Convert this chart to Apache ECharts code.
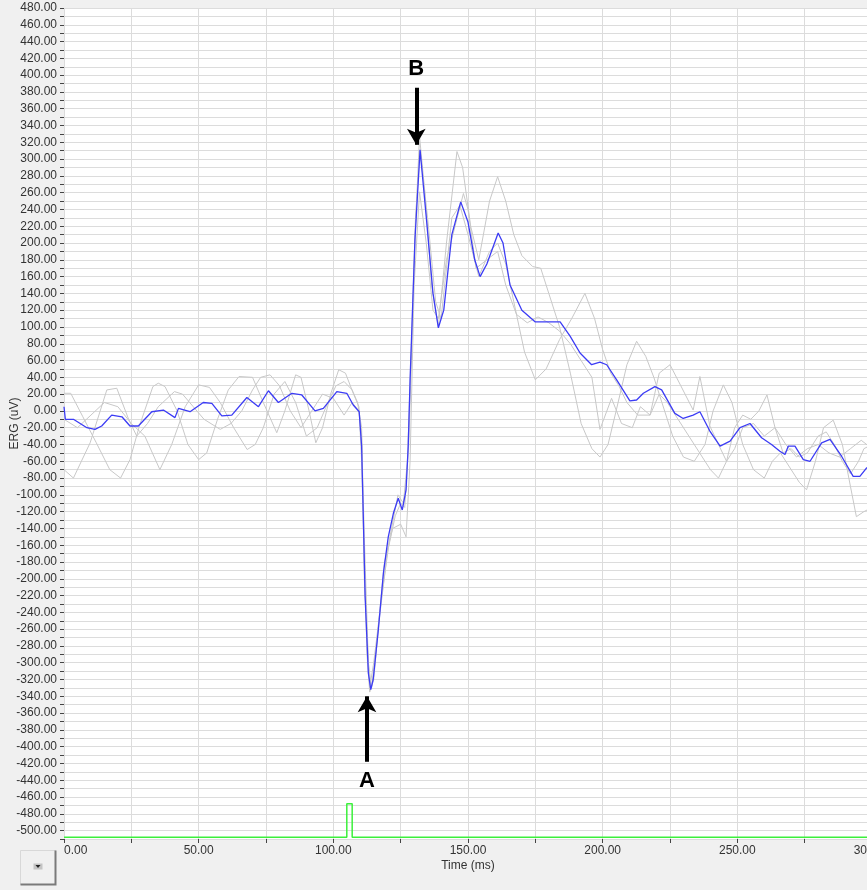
<!DOCTYPE html>
<html>
<head>
<meta charset="utf-8">
<script src="https://cdn.jsdelivr.net/npm/echarts@6/dist/echarts.min.js"></script>
<style>
  html, body { margin: 0; padding: 0; background: #f0f0f0; }
  #chart { width: 867px; height: 890px; }
</style>
</head>
<body>
<div id="chart"></div>
<script>
// averaged ERG trace (blue)
const meanTime = [0, 0.5, 3.5, 8.5, 11.5, 14, 17.7, 21.5, 24.5, 27.6, 32.6, 36.9, 41.2, 42.5, 46.8, 51.7, 54.9, 58.6, 62.3, 67.9, 72.2, 75.9, 79.6, 84.6, 88.3, 93.2, 96.3, 101.3, 105, 107.4, 109.6, 110.5, 111.1, 111.8, 113, 113.9, 114.8, 116.7, 118.6, 120.4, 122.3, 124.1, 125.6, 127, 127.8, 128.5, 130.3, 132.2, 134.7, 137, 139, 141, 144, 147.3, 150, 152.5, 154.5, 157, 161.2, 163, 165.6, 170, 175, 180, 184.2, 187.9, 191.6, 195.9, 199, 201.5, 205.2, 210.1, 212.6, 215.1, 219.4, 221.9, 226.8, 229.9, 233.6, 236.1, 239.8, 243.6, 247.3, 251, 254.7, 259, 262.7, 265.8, 267.7, 268.9, 271.4, 274.5, 277, 281.3, 284.4, 288.7, 293, 295.5, 298, 300];
const meanValue = [5, -10, -10, -20, -22, -18, -5, -7, -18, -18, -1, 1, -8, 3, -1, 10, 9, -6, -5, 16, 5, 24, 10, 21, 19, 0, 3, 23, 21, 7, -1, -42, -122, -221, -312, -332, -320, -261, -193, -150, -122, -104, -118, -94, -42, 37, 204, 311, 224, 140, 99, 120, 210, 249, 225, 180, 160, 175, 212, 200, 150, 120, 106, 106, 106, 89, 69, 55, 58, 55, 37, 12, 13, 21, 29, 25, -3, -9, -5, -1, -24, -42, -36, -20, -15, -32, -40, -48, -52, -42, -42, -58, -60, -38, -34, -54, -78, -78, -68, -66];

// single sweeps (grey)
const sweep1Time = [0, 2.5, 7, 12, 17, 21, 24.5, 28, 33, 35, 37.5, 42, 46, 50, 53, 57, 61, 65, 70, 74, 79, 82, 86, 88, 91, 93.5, 96, 99, 102, 104.5, 107.4, 109.5, 110.5, 111.5, 112.5, 113.5, 115, 117, 120, 123, 125, 126.5, 128, 129, 130.5, 132, 134, 136.5, 139, 142, 145.9, 148, 151, 154, 158, 161, 164, 167, 170, 174, 177, 180, 184, 188, 192, 196, 199, 202, 205, 209, 212.6, 216, 219, 222, 226, 230, 234, 238, 241, 244.8, 248, 252, 256, 260, 263, 266, 270, 273, 275.7, 279, 282, 285.6, 289, 292, 294.2, 297, 300];
const sweep1Value = [21, 21, -7, -38, -70, -80, -58, -18, 29, 33, 29, 0, -40, -58, -50, -10, 25, 41, 40, 10, -26, 0, 43, 40, 0, -38, -20, 20, 49, 45, 21, 5, -60, -180, -290, -335, -320, -250, -170, -125, -110, -115, -40, 60, 220, 327, 260, 150, 100, 200, 309, 290, 220, 180, 250, 279, 250, 210, 185, 172, 170, 140, 100, 45, -15, -45, -55, -40, 0, 55, 83, 65, 40, 10, -30, -55, -60, -40, 0, 31, 10, -40, -70, -80, -60, -50, -70, -85, -94, -60, -20, -11, -40, -90, -126, -120, -115];

const sweep2Time = [0, 3.5, 9.7, 15.9, 19.6, 24, 27, 31, 35, 41, 44, 48, 52, 58, 62, 66, 70, 73, 76.5, 80, 84, 88, 92, 96, 100, 104, 107, 109.5, 110.5, 111.5, 113, 114.2, 116, 119, 122, 125, 127, 128.5, 130, 132, 134.5, 137, 139, 142, 148.3, 150, 153, 157, 161, 164, 168, 172, 176, 180, 184, 188, 192, 196, 199, 203.3, 207, 211, 214, 217.6, 221, 224, 228, 232, 236, 240, 243, 246, 249, 252, 255, 258, 261, 264, 267, 270, 273, 276, 280, 283, 286, 289, 292, 295, 297, 300];
const sweep2Value = [-70, -80, -38, 25, 27, -10, -30, -15, 5, 23, 20, 5, -10, -22, -15, 0, 25, 40, 43, 30, 0, -20, 0, 20, 15, -5, 10, 0, -30, -150, -300, -330, -280, -180, -140, -135, -150, -60, 150, 261, 200, 120, 110, 180, 259, 240, 170, 180, 190, 150, 115, 105, 112, 105, 95, 80, 60, 40, -22, 15, -15, -20, 5, -5, 20, 10, -10, -30, -50, -70, -80, -60, -20, -5, -10, 0, 19, -20, -50, -45, -55, -50, -30, -25, -40, -60, -75, -60, -45, -40];

const sweep3Time = [0, 5, 10, 15, 20, 25, 30, 35.6, 40, 45, 50, 54, 58, 63, 68, 71, 74, 78, 82, 86, 90, 94, 98, 101, 104, 107, 109, 110.5, 111.5, 113.5, 115, 118, 121, 124, 126, 127.5, 129, 130.5, 132.2, 135, 138, 140, 144, 147, 150, 154, 158, 161, 164, 167, 171, 175, 179, 184, 188.5, 193.4, 197, 200, 203, 206, 209, 213, 217.6, 221, 225, 229, 233.6, 236.1, 239.8, 243, 246, 249, 252, 256, 260, 264, 268, 272, 276, 280, 284, 288, 292, 296, 300];
const sweep3Value = [-10, -20, -5, 10, 5, -15, -30, -70, -40, 5, 31, 28, 10, -20, -46, -40, -20, 20, 35, 10, -30, -20, 10, 30, 35, 25, 10, -20, -200, -330, -300, -220, -150, -100, -110, -60, 80, 230, 310, 230, 130, 110, 230, 245, 210, 160, 190, 200, 175, 130, 70, 37, 50, 85, 110, 140, 110, 73, 45, 30, 10, -5, -5, 45, 55, 30, 1, 41, -18, -40, -60, -45, -20, -15, -30, -20, -40, -55, -45, -40, -50, -55, -45, -35, -45];

// stimulus marker (green)
const stimTime = [0, 105, 105, 107, 107, 300];
const stimValue = [-508, -508, -468, -468, -508, -508];

// annotations: arrow [time, from, to] and letter position
const arrowA = { name: 'A', time: 112.5, from: -418, to: -340 };
const arrowB = { name: 'B', time: 130.8, from: 385, to: 317 };

const pairs = (t, v) => t.map((x, i) => [x, v[i]]);

const chart = echarts.init(document.getElementById('chart'));

const axisText = { color: '#333', fontSize: 12, fontFamily: 'Liberation Sans, Arial, sans-serif' };

const arrowLine = (a) => ({
  silent: true,
  symbol: ['none', 'arrow'],
  symbolSize: [14, 16],
  lineStyle: { color: '#000', width: 4, type: 'solid' },
  label: {
    show: true,
    position: 'start',
    formatter: a.name,
    color: '#000',
    fontSize: 22,
    fontWeight: 'bold',
    fontFamily: 'Liberation Sans, Arial, sans-serif',
    distance: 8
  },
  data: [[{ coord: [a.time, a.from] }, { coord: [a.time, a.to] }]]
});

const greyStyle = { color: '#c8c8c8', width: 1 };

chart.setOption({
  animation: false,
  backgroundColor: '#f0f0f0',
  grid: {
    left: 64,
    right: -5,
    top: 8,
    bottom: 51,
    outerBoundsMode: 'none',
    containLabel: false,
    show: true,
    backgroundColor: '#ffffff',
    borderWidth: 0
  },
  xAxis: {
    type: 'value',
    min: 0,
    max: 300,
    interval: 25,
    name: 'Time (ms)',
    nameLocation: 'middle',
    nameGap: 21,
    nameMoveOverlap: false,
    nameTextStyle: axisText,
    axisLine: { show: false, onZero: false },
    axisTick: { show: true, length: 4, lineStyle: { color: '#444' } },
    axisLabel: Object.assign({
      margin: 6,
      alignMinLabel: 'left',
      formatter: v => (v % 50 === 0 ? v.toFixed(2) : '')
    }, axisText),
    splitLine: { show: true, lineStyle: { color: '#dcdcdc', width: 1 } }
  },
  yAxis: {
    type: 'value',
    min: -510,
    max: 480,
    interval: 10,
    name: 'ERG (uV)',
    nameLocation: 'middle',
    nameGap: 43,
    nameRotate: 90,
    nameMoveOverlap: false,
    nameTextStyle: axisText,
    axisLine: { show: false, onZero: false },
    axisTick: { show: true, length: 4, lineStyle: { color: '#444' } },
    axisLabel: Object.assign({
      margin: 7,
      formatter: v => (v % 20 === 0 && v >= -500 ? v.toFixed(2) : '')
    }, axisText),
    splitLine: { show: true, lineStyle: { color: '#dcdcdc', width: 1 } }
  },
  series: [
    { type: 'line', data: pairs(sweep1Time, sweep1Value), symbol: 'none', lineStyle: greyStyle, z: 2 },
    { type: 'line', data: pairs(sweep2Time, sweep2Value), symbol: 'none', lineStyle: greyStyle, z: 2 },
    { type: 'line', data: pairs(sweep3Time, sweep3Value), symbol: 'none', lineStyle: greyStyle, z: 2 },
    {
      type: 'line', data: pairs(meanTime, meanValue), symbol: 'none',
      lineStyle: { color: '#3c3cf5', width: 1.3 }, z: 3,
      markLine: arrowLine(arrowA)
    },
    {
      type: 'line', data: pairs(stimTime, stimValue), symbol: 'none',
      lineStyle: { color: '#3cf03c', width: 1.5 }, z: 4,
      markLine: arrowLine(arrowB)
    }
  ],
  graphic: [
    {
      type: 'group', left: 18, top: 848,
      children: [
        { type: 'rect', shape: { x: 0, y: 0, width: 35, height: 34 }, style: { fill: '#f0f0f0', stroke: '#d8d8d8', lineWidth: 1 } },
        { type: 'polyline', shape: { points: [[35, 0], [35, 34], [0, 34]] }, style: { stroke: '#7a7a7a', lineWidth: 2, fill: null } },
        { type: 'rect', shape: { x: 13, y: 13, width: 9, height: 6 }, style: { fill: '#c4c4c4' } },
        { type: 'polygon', shape: { points: [[15, 14.5], [20, 14.5], [17.5, 17.5]] }, style: { fill: '#222' } }
      ]
    }
  ]
});
</script>
</body>
</html>
